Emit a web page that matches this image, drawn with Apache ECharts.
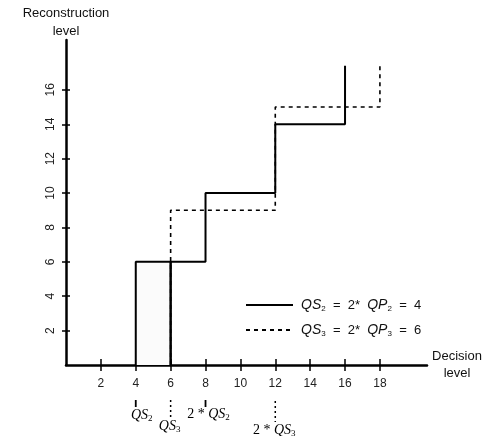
<!DOCTYPE html>
<html>
<head>
<meta charset="utf-8">
<script src="https://cdn.jsdelivr.net/npm/echarts@6/dist/echarts.min.js"></script>
<style>
  html, body { margin: 0; padding: 0; background: #fff; }
  #chart { width: 499px; height: 436px; }
</style>
</head>
<body>
<div id="chart"></div>
<script>
  // step function for QS2 = 4 (solid)
  var solidX = [4, 4, 8, 8, 12, 12, 16, 16];
  var solidY = [0, 6, 6, 10, 10, 14, 14, 17.4];
  // step function for QS3 = 6 (dashed)
  var dashedX = [6, 6, 12, 12, 18, 18];
  var dashedY = [0, 9, 9, 15, 15, 17.4];
  // right edge of the shaded dead-zone box
  var boxX = [6, 6];
  var boxY = [0, 6];
  var xTicks = [2, 4, 6, 8, 10, 12, 14, 16, 18];
  var yTicks = [2, 4, 6, 8, 10, 12, 14, 16];
  var markX = [4, 6, 8, 12];
  var markText = ['{i|QS}{s|2}', '{i|QS}{s|3}', '{n|2 * }{i|QS}{s|2}', '{n|2 * }{i|QS}{s|3}'];
  var markDotted = [false, true, false, true];

  var xMax = 20.7, yMax = 18.9;

  function pairs(xs, ys) {
    var res = [];
    for (var i = 0; i < xs.length; i++) res.push([xs[i], ys[i]]);
    return res;
  }

  var myChart = echarts.init(document.getElementById('chart'));

  var legendText = {
    'QS2 = 2* QP2 = 4': '{i|QS}{s|2}{n|  =  2*  }{i|QP}{s|2}{n|  =  4}',
    'QS3 = 2* QP3 = 6': '{i|QS}{s|3}{n|  =  2*  }{i|QP}{s|3}{n|  =  6}'
  };

  var richSans = {
    i: { fontFamily: 'Liberation Sans', fontStyle: 'italic', fontSize: 14, color: '#111', lineHeight: 16 },
    n: { fontFamily: 'Liberation Sans', fontSize: 13, color: '#111', lineHeight: 16 },
    s: { fontFamily: 'Liberation Sans', fontSize: 8, color: '#111', lineHeight: 6, verticalAlign: 'bottom' }
  };

  var option = {
    animation: false,
    backgroundColor: '#fff',
    grid: { left: 66, right: 72, top: 40, bottom: 71 },
    legend: {
      orient: 'vertical',
      left: 240,
      top: 293,
      itemWidth: 47,
      itemHeight: 14,
      itemGap: 10,
      itemStyle: { opacity: 0 },
      data: ['QS2 = 2* QP2 = 4', 'QS3 = 2* QP3 = 6'],
      formatter: function (name) { return legendText[name]; },
      textStyle: { padding: [0, 0, 0, 3], rich: richSans }
    },
    xAxis: [{
      type: 'value',
      min: 0,
      max: xMax,
      interval: 2,
      name: 'Decision\nlevel',
      nameLocation: 'end',
      nameGap: 30,
      nameTextStyle: { fontFamily: 'Liberation Sans', fontSize: 13, color: '#111', align: 'center', lineHeight: 17 },
      axisLine: { lineStyle: { color: '#000', width: 2.5 } },
      axisTick: { show: true, length: 6, customValues: xTicks, lineStyle: { color: '#000', width: 1.5 } },
      axisLabel: { customValues: xTicks, margin: 13, fontFamily: 'Liberation Sans', fontSize: 12, color: '#222' },
      splitLine: { show: false }
    }, {
      type: 'value',
      min: 0,
      max: xMax,
      position: 'bottom',
      axisLine: { show: false },
      axisTick: { show: true, inside: true, length: 6, customValues: xTicks, lineStyle: { color: '#000', width: 1.5 } },
      axisLabel: { show: false },
      splitLine: { show: false }
    }],
    yAxis: [{
      type: 'value',
      min: 0,
      max: yMax,
      interval: 2,
      name: 'Reconstruction\nlevel',
      nameLocation: 'end',
      nameGap: 0,
      nameTextStyle: { fontFamily: 'Liberation Sans', fontSize: 13, color: '#111', align: 'center', lineHeight: 18 },
      axisLine: { lineStyle: { color: '#000', width: 2.5 } },
      axisTick: { show: true, length: 4, customValues: yTicks, lineStyle: { color: '#000', width: 1.5 } },
      axisLabel: { customValues: yTicks, rotate: 90, margin: 9, fontFamily: 'Liberation Sans', fontSize: 12, color: '#222' },
      splitLine: { show: false }
    }, {
      type: 'value',
      min: 0,
      max: yMax,
      position: 'left',
      axisLine: { show: false },
      axisTick: { show: true, inside: true, length: 4, customValues: yTicks, lineStyle: { color: '#000', width: 1.5 } },
      axisLabel: { show: false },
      splitLine: { show: false }
    }],
    series: [{
      name: 'box',
      type: 'line',
      symbol: 'none',
      data: pairs(boxX, boxY),
      lineStyle: { color: '#000', width: 2.5 },
      markArea: {
        silent: true,
        itemStyle: { color: '#fbfbfb' },
        data: [[{ coord: [4, 0] }, { coord: [6, 6] }]]
      },
      z: 3
    }, {
      name: 'QS2 = 2* QP2 = 4',
      type: 'line',
      symbol: 'none',
      data: pairs(solidX, solidY),
      lineStyle: { color: '#000', width: 2 },
      itemStyle: { color: '#000' },
      z: 4
    }, {
      name: 'QS3 = 2* QP3 = 6',
      type: 'line',
      symbol: 'none',
      data: pairs(dashedX, dashedY),
      lineStyle: { color: '#000', width: 1.6, type: [4, 4] },
      itemStyle: { color: '#000' },
      z: 4
    }]
  };

  myChart.setOption(option);

  // marks under the decision axis
  function placeMarks() {
    var axisY = myChart.convertToPixel({ yAxisIndex: 0 }, 0);
    var lineStart = [35, 35, 35, 36];
    var lineEnd = [42, 52, 42, 57];
    var textY = [50, 61, 49, 65];
    var dx = [6, -1, 3, -1];
    var els = [];
    for (var i = 0; i < markX.length; i++) {
      var px = myChart.convertToPixel({ xAxisIndex: 0 }, markX[i]);
      els.push({
        type: 'line',
        silent: true,
        shape: { x1: px, y1: axisY + lineStart[i], x2: px, y2: axisY + lineEnd[i] },
        style: { stroke: '#000', lineWidth: markDotted[i] ? 1.5 : 1.8, lineDash: markDotted[i] ? [2, 3] : null }
      });
      els.push({
        type: 'text',
        silent: true,
        x: px + dx[i],
        y: axisY + textY[i],
        style: {
          text: markText[i],
          align: 'center',
          verticalAlign: 'middle',
          rich: {
            i: { fontFamily: 'Liberation Serif', fontStyle: 'italic', fontSize: 14, color: '#111', lineHeight: 16 },
            n: { fontFamily: 'Liberation Serif', fontSize: 14, color: '#111', lineHeight: 16 },
            s: { fontFamily: 'Liberation Serif', fontSize: 9, color: '#111', lineHeight: 6, verticalAlign: 'bottom' }
          }
        }
      });
    }
    myChart.setOption({ graphic: els });
  }
  placeMarks();

  window.addEventListener('resize', function () {
    myChart.resize();
    placeMarks();
  });
</script>
</body>
</html>
